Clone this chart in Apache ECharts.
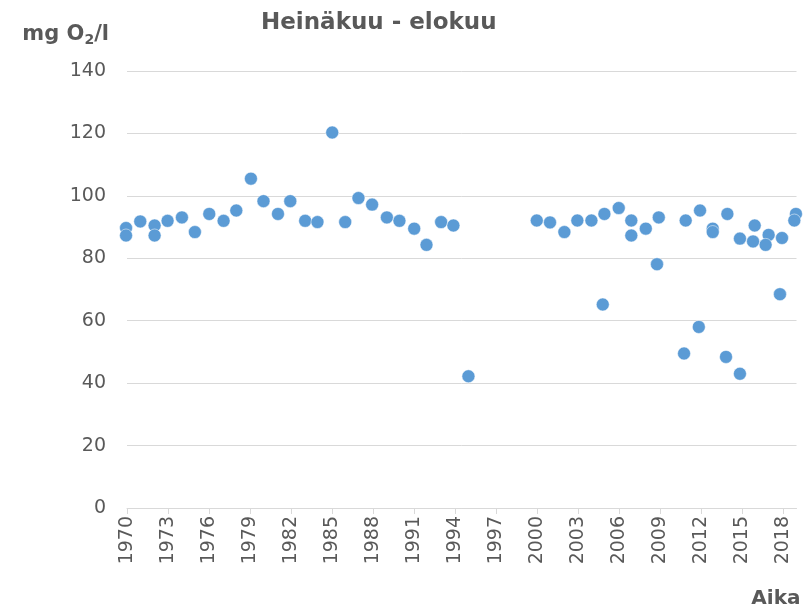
<!DOCTYPE html>
<html>
<head>
<meta charset="utf-8">
<script src="https://cdn.jsdelivr.net/npm/echarts@6/dist/echarts.min.js"></script>
<style>
  html, body { margin: 0; padding: 0; background: #fff; }
  #chart { width: 811px; height: 616px; }
</style>
</head>
<body>
<div id="chart"></div>
<script>
// sampling time (decimal year) and dissolved oxygen saturation, July - August
const years = [
  1969.93, 1969.93, 1970.97, 1972.02, 1972.02, 1972.97, 1974.02, 1974.97, 1976.02, 1977.07,
  1978.0, 1979.07, 1979.99, 1981.05, 1981.95, 1983.04, 1983.94, 1985.02, 1985.97, 1986.94,
  1987.94, 1989.02, 1989.94, 1991.02, 1991.92, 1992.99, 1993.89, 1994.99,
  1999.99, 2000.96, 2002.01, 2002.96, 2003.99, 2004.94, 2004.82, 2005.99, 2006.91, 2006.91,
  2007.97, 2008.92, 2008.79, 2010.89, 2010.77, 2011.94, 2011.85, 2012.87, 2012.87, 2013.94,
  2013.84, 2014.86, 2014.86, 2015.94, 2015.82, 2016.96, 2016.74, 2017.94, 2017.79, 2018.96,
  2018.84
];
const oxygen = [
  89.7, 87.3, 91.8, 90.5, 87.3, 92.0, 93.1, 88.4, 94.2, 92.0,
  95.3, 105.5, 98.3, 94.2, 98.3, 92.0, 91.6, 120.3, 91.6, 99.3,
  97.2, 93.1, 92.0, 89.5, 84.3, 91.6, 90.5, 42.2,
  92.1, 91.5, 88.4, 92.1, 92.1, 94.2, 65.2, 96.1, 92.1, 87.3,
  89.5, 93.1, 78.1, 92.1, 49.5, 95.3, 58.0, 89.5, 88.4, 94.2,
  48.4, 86.3, 43.0, 90.5, 85.4, 87.5, 84.3, 86.5, 68.5, 94.2,
  92.1
];
// x-axis tick labels (every third year)
const yearTicks = [1970, 1973, 1976, 1979, 1982, 1985, 1988, 1991, 1994, 1997, 2000, 2003, 2006, 2009, 2012, 2015, 2018];

const textColor = '#595959';
const gridColor = '#d9d9d9';
const font = 'DejaVu Sans';

const chart = echarts.init(document.getElementById('chart'), null, { renderer: 'canvas' });

const option = {
  animation: false,
  backgroundColor: '#fff',
  title: {
    text: 'Heinäkuu - elokuu',
    left: 261,
    top: 12,
    padding: 0,
    textStyle: {
      fontFamily: font,
      fontSize: 23,
      fontWeight: 'bold',
      color: textColor
    }
  },
  grid: {
    left: 127,
    right: 14.5,
    top: 71,
    bottom: 108
  },
  xAxis: {
    type: 'value',
    min: 1970,
    max: 2019,
    interval: 3,
    name: 'Aika',
    nameLocation: 'end',
    nameGap: 4,
    nameTextStyle: {
      fontFamily: font,
      fontSize: 20,
      fontWeight: 'bold',
      color: textColor,
      align: 'right',
      verticalAlign: 'top',
      padding: [81, 0, 0, 0]
    },
    splitLine: { show: false },
    axisLine: { lineStyle: { color: gridColor, width: 1 } },
    axisTick: {
      show: true,
      length: 6,
      customValues: yearTicks,
      lineStyle: { color: gridColor }
    },
    axisLabel: {
      rotate: 90,
      margin: 8,
      customValues: yearTicks,
      formatter: v => String(v),
      fontFamily: font,
      fontSize: 19,
      color: textColor
    }
  },
  yAxis: {
    type: 'value',
    min: 0,
    max: 140,
    interval: 20,
    name: '{a|mg O}{b|2}{a|/l}',
    nameLocation: 'end',
    nameGap: 24,
    nameTextStyle: {
      align: 'right',
      padding: [0, 18, 0, 0],
      rich: {
        a: { fontFamily: font, fontSize: 21, fontWeight: 'bold', color: textColor },
        b: { fontFamily: font, fontSize: 14, fontWeight: 'bold', color: textColor, padding: [11, 0, 0, 0] }
      }
    },
    axisLine: { show: false },
    axisTick: { show: false },
    splitLine: { lineStyle: { color: gridColor, width: 1 } },
    axisLabel: {
      margin: 21,
      fontFamily: font,
      fontSize: 19,
      color: textColor
    }
  },
  series: [
    {
      type: 'scatter',
      symbol: 'circle',
      symbolSize: 13,
      clip: false,
      itemStyle: {
        color: '#5b9bd5',
        opacity: 1,
        borderColor: '#fff',
        borderWidth: 0.5
      },
      data: years.map((y, i) => [y, oxygen[i]])
    }
  ]
};

chart.setOption(option);
</script>
</body>
</html>
